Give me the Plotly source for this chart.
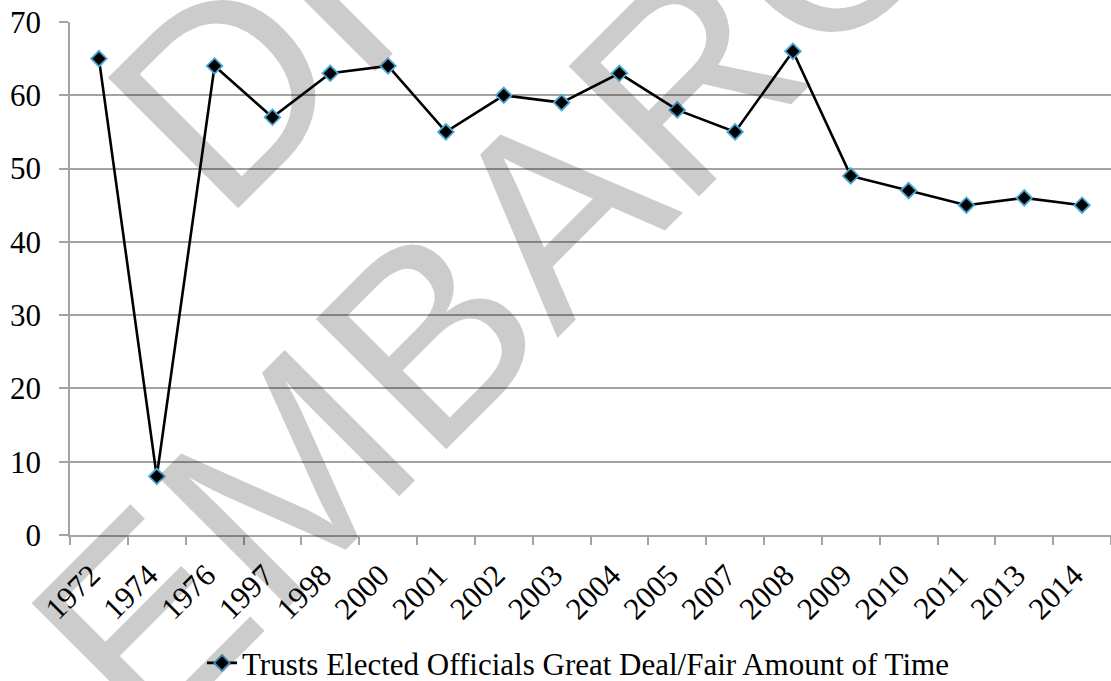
import plotly.graph_objects as go

years = ["1972", "1974", "1976", "1997", "1998", "2000", "2001", "2002", "2003",
         "2004", "2005", "2007", "2008", "2009", "2010", "2011", "2013", "2014"]
trust_pct = [65, 8, 64, 57, 63, 64, 55, 60, 59, 63, 58, 55, 66, 49, 47, 45, 46, 45]
series_name = "Trusts Elected Officials Great Deal/Fair Amount of Time"
y_ticks = [0, 10, 20, 30, 40, 50, 60, 70]

FONT = "Liberation Serif, Times New Roman, serif"
GRID = "#a3a3a3"

fig = go.Figure()
fig.add_trace(go.Scatter(
    x=years, y=trust_pct, name=series_name, mode="lines+markers",
    line=dict(color="black", width=2.6),
    marker=dict(symbol="diamond", size=12, color="black",
                line=dict(color="#4aa8d6", width=1.8)),
))

fig.update_layout(
    width=1111, height=681,
    margin=dict(l=70, r=0, t=22, b=146, autoexpand=False),
    paper_bgcolor="white", plot_bgcolor="white",
    font=dict(family=FONT, size=31, color="black"),
    showlegend=True,
    legend=dict(orientation="h", x=0.488, xanchor="center", y=-0.25, yanchor="middle",
                font=dict(family=FONT, size=31, color="black"),
                bgcolor="rgba(0,0,0,0)"),
    xaxis=dict(type="category", categoryorder="array", categoryarray=years,
               range=[-0.5, len(years) - 0.5],
               tickson="boundaries", showgrid=False, automargin=False,
               showline=True, linecolor=GRID, linewidth=1.5,
               ticks="outside", ticklen=8, tickwidth=1.5, tickcolor=GRID,
               ticklabelstandoff=8, ticklabelshift=-8,
               tickangle=-45, tickfont=dict(family=FONT, size=31, color="black")),
    yaxis=dict(range=[0, 70], tickvals=y_ticks, showgrid=True, gridcolor=GRID, gridwidth=1.5,
               showline=True, linecolor=GRID, linewidth=1.5, automargin=False,
               ticks="outside", ticklen=9, tickwidth=1.5, tickcolor=GRID,
               ticklabelstandoff=12, zeroline=False,
               tickfont=dict(family=FONT, size=31, color="black")),
)

wm = dict(xref="paper", yref="paper", showarrow=False, textangle=-45,
          xanchor="center", yanchor="middle",
          font=dict(family="Liberation Sans, Arial, sans-serif", size=268,
                    color="rgba(0,0,0,0.2)"))
fig.add_annotation(text="EMBARGO", x=0.4755, y=0.655, **wm)
fig.add_annotation(text="DRAFT", x=0.387, y=1.351, **wm)

fig.write_html("out.html")
